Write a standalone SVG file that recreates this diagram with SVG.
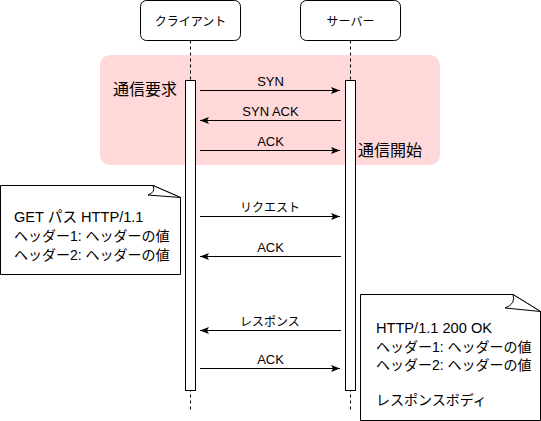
<svg xmlns="http://www.w3.org/2000/svg" width="541" height="421" viewBox="0 0 541 421">
<style>
text{font-family:"Liberation Sans","Noto Sans CJK JP",sans-serif;fill:#000}
.hd{font-size:12px;text-anchor:middle}
.lb{font-size:12px;text-anchor:middle}
.la{font-size:13px;text-anchor:middle}
.big{font-size:16px}
.nt{font-size:14px}
.nl{font-size:14.6px}
.box{fill:#fff;stroke:#000;stroke-width:1}
.life{stroke:#000;stroke-width:1;stroke-dasharray:3,3;fill:none}
.msg{stroke:#000;stroke-width:1;fill:none;marker-end:url(#ah)}
</style>
<defs>
<marker id="ah" markerUnits="userSpaceOnUse" markerWidth="10" markerHeight="8" refX="9" refY="4" orient="auto">
<path d="M0,0.5 L9,4 L0,7.5 L2,4 Z" fill="#000"/>
</marker>
</defs>
<rect id="phase" x="100" y="55" width="340" height="110" rx="10" fill="#ffd9d9"/>
<g id="client">
<rect class="box" x="140.5" y="0.5" width="100" height="40" rx="6"/>
<text class="hd" x="190.5" y="26">クライアント</text>
<line class="life" x1="190.5" y1="40.5" x2="190.5" y2="410"/>
<rect class="box" x="185.5" y="80.5" width="10" height="310"/>
</g>
<g id="server">
<rect class="box" x="300.5" y="0.5" width="100" height="40" rx="6"/>
<text class="hd" x="350.5" y="26">サーバー</text>
<line class="life" x1="350.5" y1="40.5" x2="350.5" y2="410"/>
<rect class="box" x="345.5" y="80.5" width="10" height="310"/>
</g>
<g id="labels">
<text class="big" x="113" y="95">通信要求</text>
<text class="big" x="358" y="156">通信開始</text>
</g>
<g id="connectors">
<line class="msg" x1="200" y1="90.5" x2="340" y2="90.5"/>
<text class="la" x="270.5" y="86">SYN</text>
<line class="msg" x1="341" y1="120.5" x2="200" y2="120.5"/>
<text class="la" x="270.5" y="116">SYN ACK</text>
<line class="msg" x1="200" y1="150.5" x2="340" y2="150.5"/>
<text class="la" x="270.5" y="146">ACK</text>
<line class="msg" x1="200" y1="216.5" x2="340" y2="216.5"/>
<text class="lb" x="270" y="212">リクエスト</text>
<line class="msg" x1="341" y1="256.5" x2="200" y2="256.5"/>
<text class="la" x="270.5" y="252">ACK</text>
<line class="msg" x1="341" y1="330.5" x2="200" y2="330.5"/>
<text class="lb" x="270" y="326">レスポンス</text>
<line class="msg" x1="200" y1="368.5" x2="340" y2="368.5"/>
<text class="la" x="270.5" y="364">ACK</text>
</g>
<g id="note-request">
<path class="box" d="M0.5,185.5 L153,185.5 L180.5,197.5 L180.5,274.5 L0.5,274.5 Z"/>
<path class="box" d="M153,185.5 Q156,192 148,195 L180.5,197.5 Z"/>
<text class="nl" x="14" y="222">GET パス HTTP/1.1</text>
<text class="nt" x="14" y="241">ヘッダー1: ヘッダーの値</text>
<text class="nt" x="14" y="260">ヘッダー2: ヘッダーの値</text>
</g>
<g id="note-response">
<path class="box" d="M360.5,294.5 L513,294.5 L540.5,311.5 L540.5,420.5 L360.5,420.5 Z"/>
<path class="box" d="M513,294.5 Q516,304 505,308 L540.5,311.5 Z"/>
<text class="nl" x="376" y="333">HTTP/1.1 200 OK</text>
<text class="nt" x="376" y="352">ヘッダー1: ヘッダーの値</text>
<text class="nt" x="376" y="370">ヘッダー2: ヘッダーの値</text>
<text class="nt" x="376" y="405">レスポンスボディ</text>
</g>
</svg>
